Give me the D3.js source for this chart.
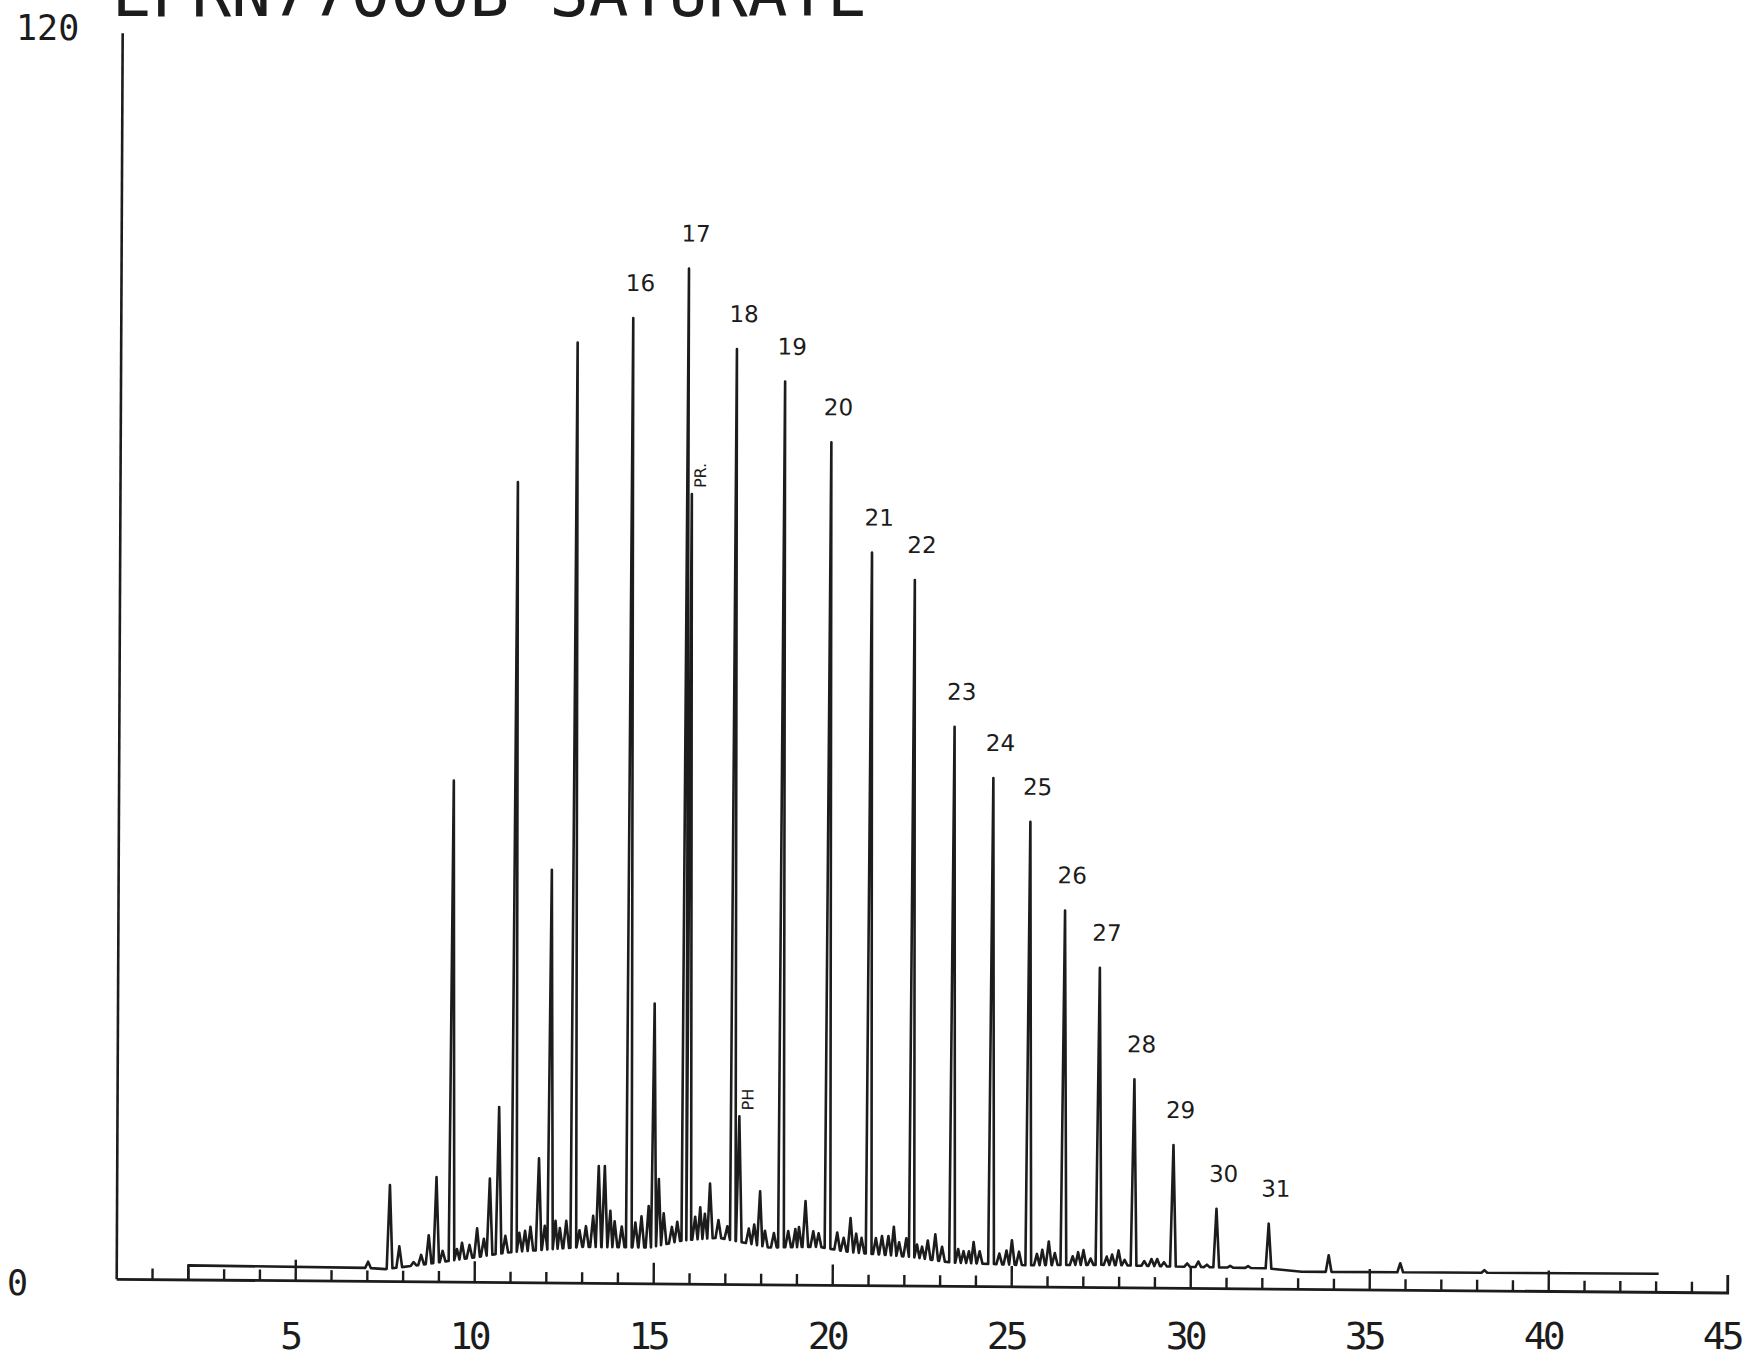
<!DOCTYPE html>
<html>
<head>
<meta charset="utf-8">
<script src="https://cdn.jsdelivr.net/npm/d3@7"></script>
<style>
  body { margin: 0; background: #fff; }
  svg { display: block; }
  .plotter { font-family: "DejaVu Sans Mono", monospace; fill: #1c1c1c; }
  .hand { font-family: "DejaVu Sans", sans-serif; fill: #1c1c1c; }
</style>
</head>
<body>
<svg id="chart"></svg>
<script>
/*
 gas chromatogram, saturate fraction - plotter output with hand-written carbon numbers
*/

var w = 1756;
var h = 1358;

// n-alkanes (hand labelled)
var alkaneLabels  = ["16","17","18","19","20","21","22","23","24","25","26","27","28","29","30","31"];
var alkaneTimes   = [14.30, 15.85, 17.20, 18.55, 19.85, 21.00, 22.20, 23.33, 24.42, 25.46, 26.44, 27.42, 28.40, 29.50, 30.71, 32.17];
var alkaneHeights = [93.0, 97.8, 90.1, 87.0, 81.2, 70.6, 68.0, 53.9, 49.0, 44.8, 36.3, 30.8, 20.1, 13.8, 7.7, 6.3];

// pristane / phytane
var isoLabels  = ["PR.", "PH"];
var isoTimes   = [15.96, 17.37];
var isoHeights = [76.1, 16.2];

// unlabelled peaks (time, apex)
var otherTimes   = [7.02, 7.62, 7.89, 8.29, 8.71, 8.92, 9.35, 9.64, 10.06, 10.41, 10.66, 11.10, 11.24, 11.55, 11.78, 12.10,
                    12.37, 12.75, 12.92, 13.30, 13.45, 13.62, 13.78, 14.48, 14.85, 14.99, 15.13, 15.27, 16.29, 16.56, 17.65,
                    17.96, 18.95, 19.23, 19.45, 20.12, 20.30, 20.49, 21.37, 21.70, 22.49, 22.86, 23.65, 23.93, 25.00, 26.03,
                    27.00, 27.98, 29.06, 29.90, 30.21, 31.60, 33.85, 35.85, 38.20];
var otherHeights = [1.9, 9.3, 3.4, 1.9, 4.5, 10.1, 48.3, 3.8, 5.2, 10.0, 16.9, 77.1, 4.8, 5.4, 12.0, 39.8,
                    5.3, 90.6, 5.1, 6.5, 11.3, 11.3, 7.0, 5.9, 7.5, 27.0, 10.1, 6.8, 7.4, 9.7, 5.4,
                    9.0, 5.4, 8.1, 5.2, 5.1, 4.6, 6.5, 4.8, 5.7, 3.8, 5.0, 3.4, 4.3, 4.5, 4.4,
                    3.6, 3.6, 2.8, 2.4, 2.6, 2.2, 3.3, 2.6, 2.0];

// small wiggles of the unresolved hump (time, apex)
var noiseTimes   = [8.50, 9.10, 9.50, 9.85, 10.25, 10.85, 11.40, 11.95, 12.25, 12.55, 13.10, 13.90, 14.10, 14.65, 15.50,
                    15.65, 16.15, 16.42, 16.80, 17.05, 17.80, 18.10, 18.35, 18.75, 19.05, 19.60, 20.65, 20.80, 21.20,
                    21.55, 21.85, 22.05, 22.35, 22.65, 23.05, 23.50, 23.80, 24.10, 24.65, 24.85, 25.20, 25.70, 25.85,
                    26.20, 26.70, 26.85, 27.20, 27.65, 27.80, 28.15, 28.70, 28.90, 29.25, 30.45, 31.10];
var noiseHeights = [2.6, 3.0, 3.2, 3.6, 4.2, 4.5, 5.0, 5.5, 6.0, 6.0, 5.5, 6.0, 5.5, 6.5, 5.5,
                    6.0, 6.5, 6.8, 6.2, 5.6, 5.8, 5.2, 5.0, 5.2, 5.6, 5.0, 5.0, 4.6, 4.6,
                    4.8, 4.2, 4.6, 4.0, 4.4, 3.8, 3.6, 3.4, 3.4, 3.2, 3.5, 3.4, 3.2, 3.6,
                    3.3, 3.0, 3.4, 2.8, 3.0, 3.2, 2.7, 2.6, 2.8, 2.5, 2.3, 2.2];

// baseline / unresolved hump (time, level)
var baseTimes  = [2.0, 2.0, 7.0, 7.5, 8.4, 10.0, 10.9, 13.0, 14.9, 15.8, 16.8, 18.2, 19.6, 20.5, 22.2, 23.3, 25.4, 27.5, 29.4, 32.1, 33.1, 43.07];
var baseLevels = [0.0, 1.4, 1.3, 1.2, 1.6, 2.4, 2.9, 3.5, 3.5, 4.2, 4.5, 3.6, 3.7, 3.2, 2.8, 2.3, 2.1, 2.2, 2.1, 2.0, 1.7, 1.8];

var xTicks = [5, 10, 15, 20, 25, 30, 35, 40, 45];
var title = "EPRN77000B SATURATE";

var svg = d3.select("#chart")
    .attr("width", w)
    .attr("height", h);

svg.append("rect").attr("width", w).attr("height", h).attr("fill", "#fff");

// plot origin + slight skew of the scanned plot
var ox = 116.7, oy = 1279.3;

var x = d3.scaleLinear().domain([0, 45]).range([0, 1611]);
var y = d3.scaleLinear().domain([0, 120]).range([0, -1246]);

var g = svg.append("g")
    .attr("transform", "translate(" + ox + "," + oy + ") matrix(1,0.0085,-0.0048,1,0,0)");

// axes
g.append("line")
    .attr("x1", 0).attr("y1", y(0))
    .attr("x2", 0).attr("y2", y(120))
    .attr("stroke", "#1c1c1c").attr("stroke-width", 2.6);

g.append("path")
    .attr("d", "M0,0H" + x(45) + "V-18")
    .attr("fill", "none")
    .attr("stroke", "#1c1c1c").attr("stroke-width", 2.8);

g.selectAll(".tick")
    .data(d3.range(1, 45))
    .enter()
    .append("line")
    .attr("class", "tick")
    .attr("x1", function(d) { return x(d); })
    .attr("x2", function(d) { return x(d); })
    .attr("y1", 0)
    .attr("y2", function(d) { return d % 5 == 0 ? -21 : -11; })
    .attr("stroke", "#1c1c1c")
    .attr("stroke-width", 2.4);

// build the trace: baseline with narrow peaks on it
var base = d3.scaleLinear().domain(baseTimes).range(baseLevels).clamp(true);

var peaks = [];
alkaneTimes.forEach(function(t, i) { peaks.push([t, alkaneHeights[i]]); });
isoTimes.forEach(function(t, i) { peaks.push([t, isoHeights[i]]); });
otherTimes.forEach(function(t, i) { peaks.push([t, otherHeights[i]]); });
noiseTimes.forEach(function(t, i) { peaks.push([t, noiseHeights[i]]); });
peaks.sort(function(a, b) { return a[0] - b[0]; });

var hw = 0.08; // half width of a peak at its foot
var spans = peaks.map(function(p) { return [p[0] - hw, p[0] + hw]; });
for (var i = 0; i < spans.length - 1; i++) {
    if (spans[i][1] > spans[i + 1][0]) {
        var mid = (peaks[i][0] + peaks[i + 1][0]) / 2;
        spans[i][1] = mid;
        spans[i + 1][0] = mid;
    }
}

var pts = [];
baseTimes.forEach(function(t, i) {
    var inside = spans.some(function(s) { return t > s[0] && t < s[1]; });
    if (!inside) pts.push([t, baseLevels[i]]);
});
peaks.forEach(function(p, i) {
    pts.push([spans[i][0], base(spans[i][0])]);
    pts.push([p[0], p[1]]);
    pts.push([spans[i][1], base(spans[i][1])]);
});
pts.sort(function(a, b) { return a[0] - b[0]; });

var line = d3.line()
    .x(function(d) { return x(d[0]); })
    .y(function(d) { return y(d[1]); });

g.append("path")
    .datum(pts)
    .attr("d", line)
    .attr("fill", "none")
    .attr("stroke", "#1c1c1c")
    .attr("stroke-width", 2.6)
    .attr("stroke-linejoin", "round");

// hand written carbon numbers
g.selectAll(".cn")
    .data(alkaneLabels)
    .enter()
    .append("text")
    .attr("class", "hand cn")
    .attr("x", function(d, i) { return x(alkaneTimes[i]) + 7; })
    .attr("y", function(d, i) { return y(alkaneHeights[i]) - 35; })
    .attr("text-anchor", "middle")
    .attr("dominant-baseline", "central")
    .attr("font-size", 23)
    .text(function(d) { return d; });

g.selectAll(".iso")
    .data(isoLabels)
    .enter()
    .append("text")
    .attr("class", "hand iso")
    .attr("transform", function(d, i) {
        return "translate(" + (x(isoTimes[i]) + 14) + "," + (y(isoHeights[i]) - 6) + ") rotate(-90)";
    })
    .attr("font-size", 16)
    .text(function(d) { return d; });

// plotter lettering
svg.append("text")
    .attr("class", "plotter")
    .attr("x", 112)
    .attr("y", 16)
    .attr("font-size", 66)
    .text(title);

svg.append("text")
    .attr("class", "plotter")
    .attr("x", 16)
    .attr("y", 40)
    .attr("font-size", 35)
    .text("120");

svg.append("text")
    .attr("class", "plotter")
    .attr("x", 7)
    .attr("y", 1295)
    .attr("font-size", 35)
    .text("0");

svg.selectAll(".xl")
    .data(xTicks)
    .enter()
    .append("text")
    .attr("class", "plotter xl")
    .attr("x", function(d) { return ox + x(d) - 6; })
    .attr("y", 1349)
    .attr("text-anchor", "middle")
    .attr("font-size", 38)
    .attr("letter-spacing", -4)
    .text(function(d) { return d; });
</script>
</body>
</html>
